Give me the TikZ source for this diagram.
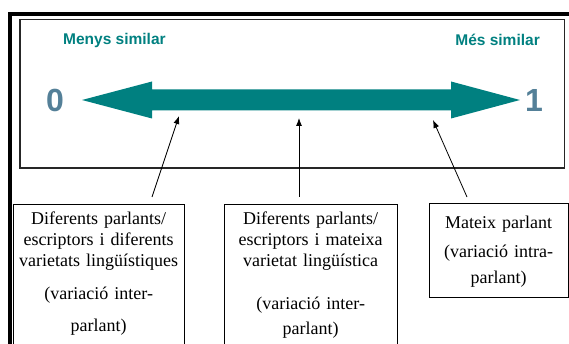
\documentclass[tikz,border=0pt]{standalone}
\usepackage{fontspec}
\setmainfont{Liberation Serif}
\newfontfamily\labelfont{Liberation Sans}
\usetikzlibrary{arrows.meta, positioning}
\definecolor{tealbar}{RGB}{0,128,128}
\definecolor{numblue}{RGB}{84,128,152}

\begin{document}
\begin{tikzpicture}[x=1pt, y=-1pt,
		simlabel/.style={inner sep=0pt, text=tealbar, font=\labelfont\bfseries\fontsize{15.5}{18}\selectfont},
		endlabel/.style={inner sep=0pt, text=numblue, font=\labelfont\bfseries\fontsize{32}{34}\selectfont},
		boxtext/.style={anchor=north west, inner xsep=4pt, inner ysep=8pt, align=center, font=\fontsize{18}{21}\selectfont},
		boxline/.style={draw, line width=0.8pt},
		pointer/.style={draw, line width=0.8pt, -{Latex[length=8pt, width=6pt]}}]
		\useasboundingbox (0,0) rectangle (569,344);
		\clip (0,0) rectangle (569,344);
		% frame
		\draw[line width=4.5pt] (10,380) -- (10,14) -- (600,14);
		\draw[line width=1.3pt, black!85] (20,19.5) rectangle (564.5,168);
		% scale
		\fill[tealbar] (82,100) -- (152,81.5) -- (152,89.5) -- (451,89.5) -- (451,81.5) -- (520,100)
			-- (451,118.5) -- (451,110.5) -- (152,110.5) -- (152,118.5) -- cycle;
		\node[simlabel, anchor=west] (less) at (63,40) {Menys similar};
		\node[simlabel, anchor=east] (more) at (540,40) {Més similar};
		\node[endlabel] (zero) at (55,100) {0};
		\node[endlabel] (one) at (534,100) {1};
		% boxes
		\node[boxtext, text width=163pt] (b1) at (13,204) {Diferents parlants/\\escriptors i diferents\\varietats lingüístiques\\[12pt](variació inter-\\[11pt]parlant)};
		\node[boxtext, text width=165pt] (b2) at (224,204) {Diferents parlants/\\escriptors i mateixa\\varietat lingüística\\[22pt](variació inter-\\[4pt]parlant)};
		\node[boxtext, text width=131pt, inner ysep=12.5pt] (b3) at (429,203) {Mateix parlant\\[8pt](variació intra-\\[5pt]parlant)};
		\draw[boxline] (b1.north west) rectangle ++(171,160);
		\draw[boxline] (b2.north west) rectangle ++(173,160);
		\draw[boxline] (b3.north west) rectangle ++(139,94);
		% pointers
		\coordinate (t1) at (152,197);
		\coordinate (h1) at (179,116);
		\coordinate (t2) at (299,197);
		\coordinate (h2) at (299,118);
		\coordinate (t3) at (467,197);
		\coordinate (h3) at (433,120);
		\draw[pointer] (t1) -- (h1);
		\draw[pointer] (t2) -- (h2);
		\draw[pointer] (t3) -- (h3);
	\end{tikzpicture}
\end{document}
